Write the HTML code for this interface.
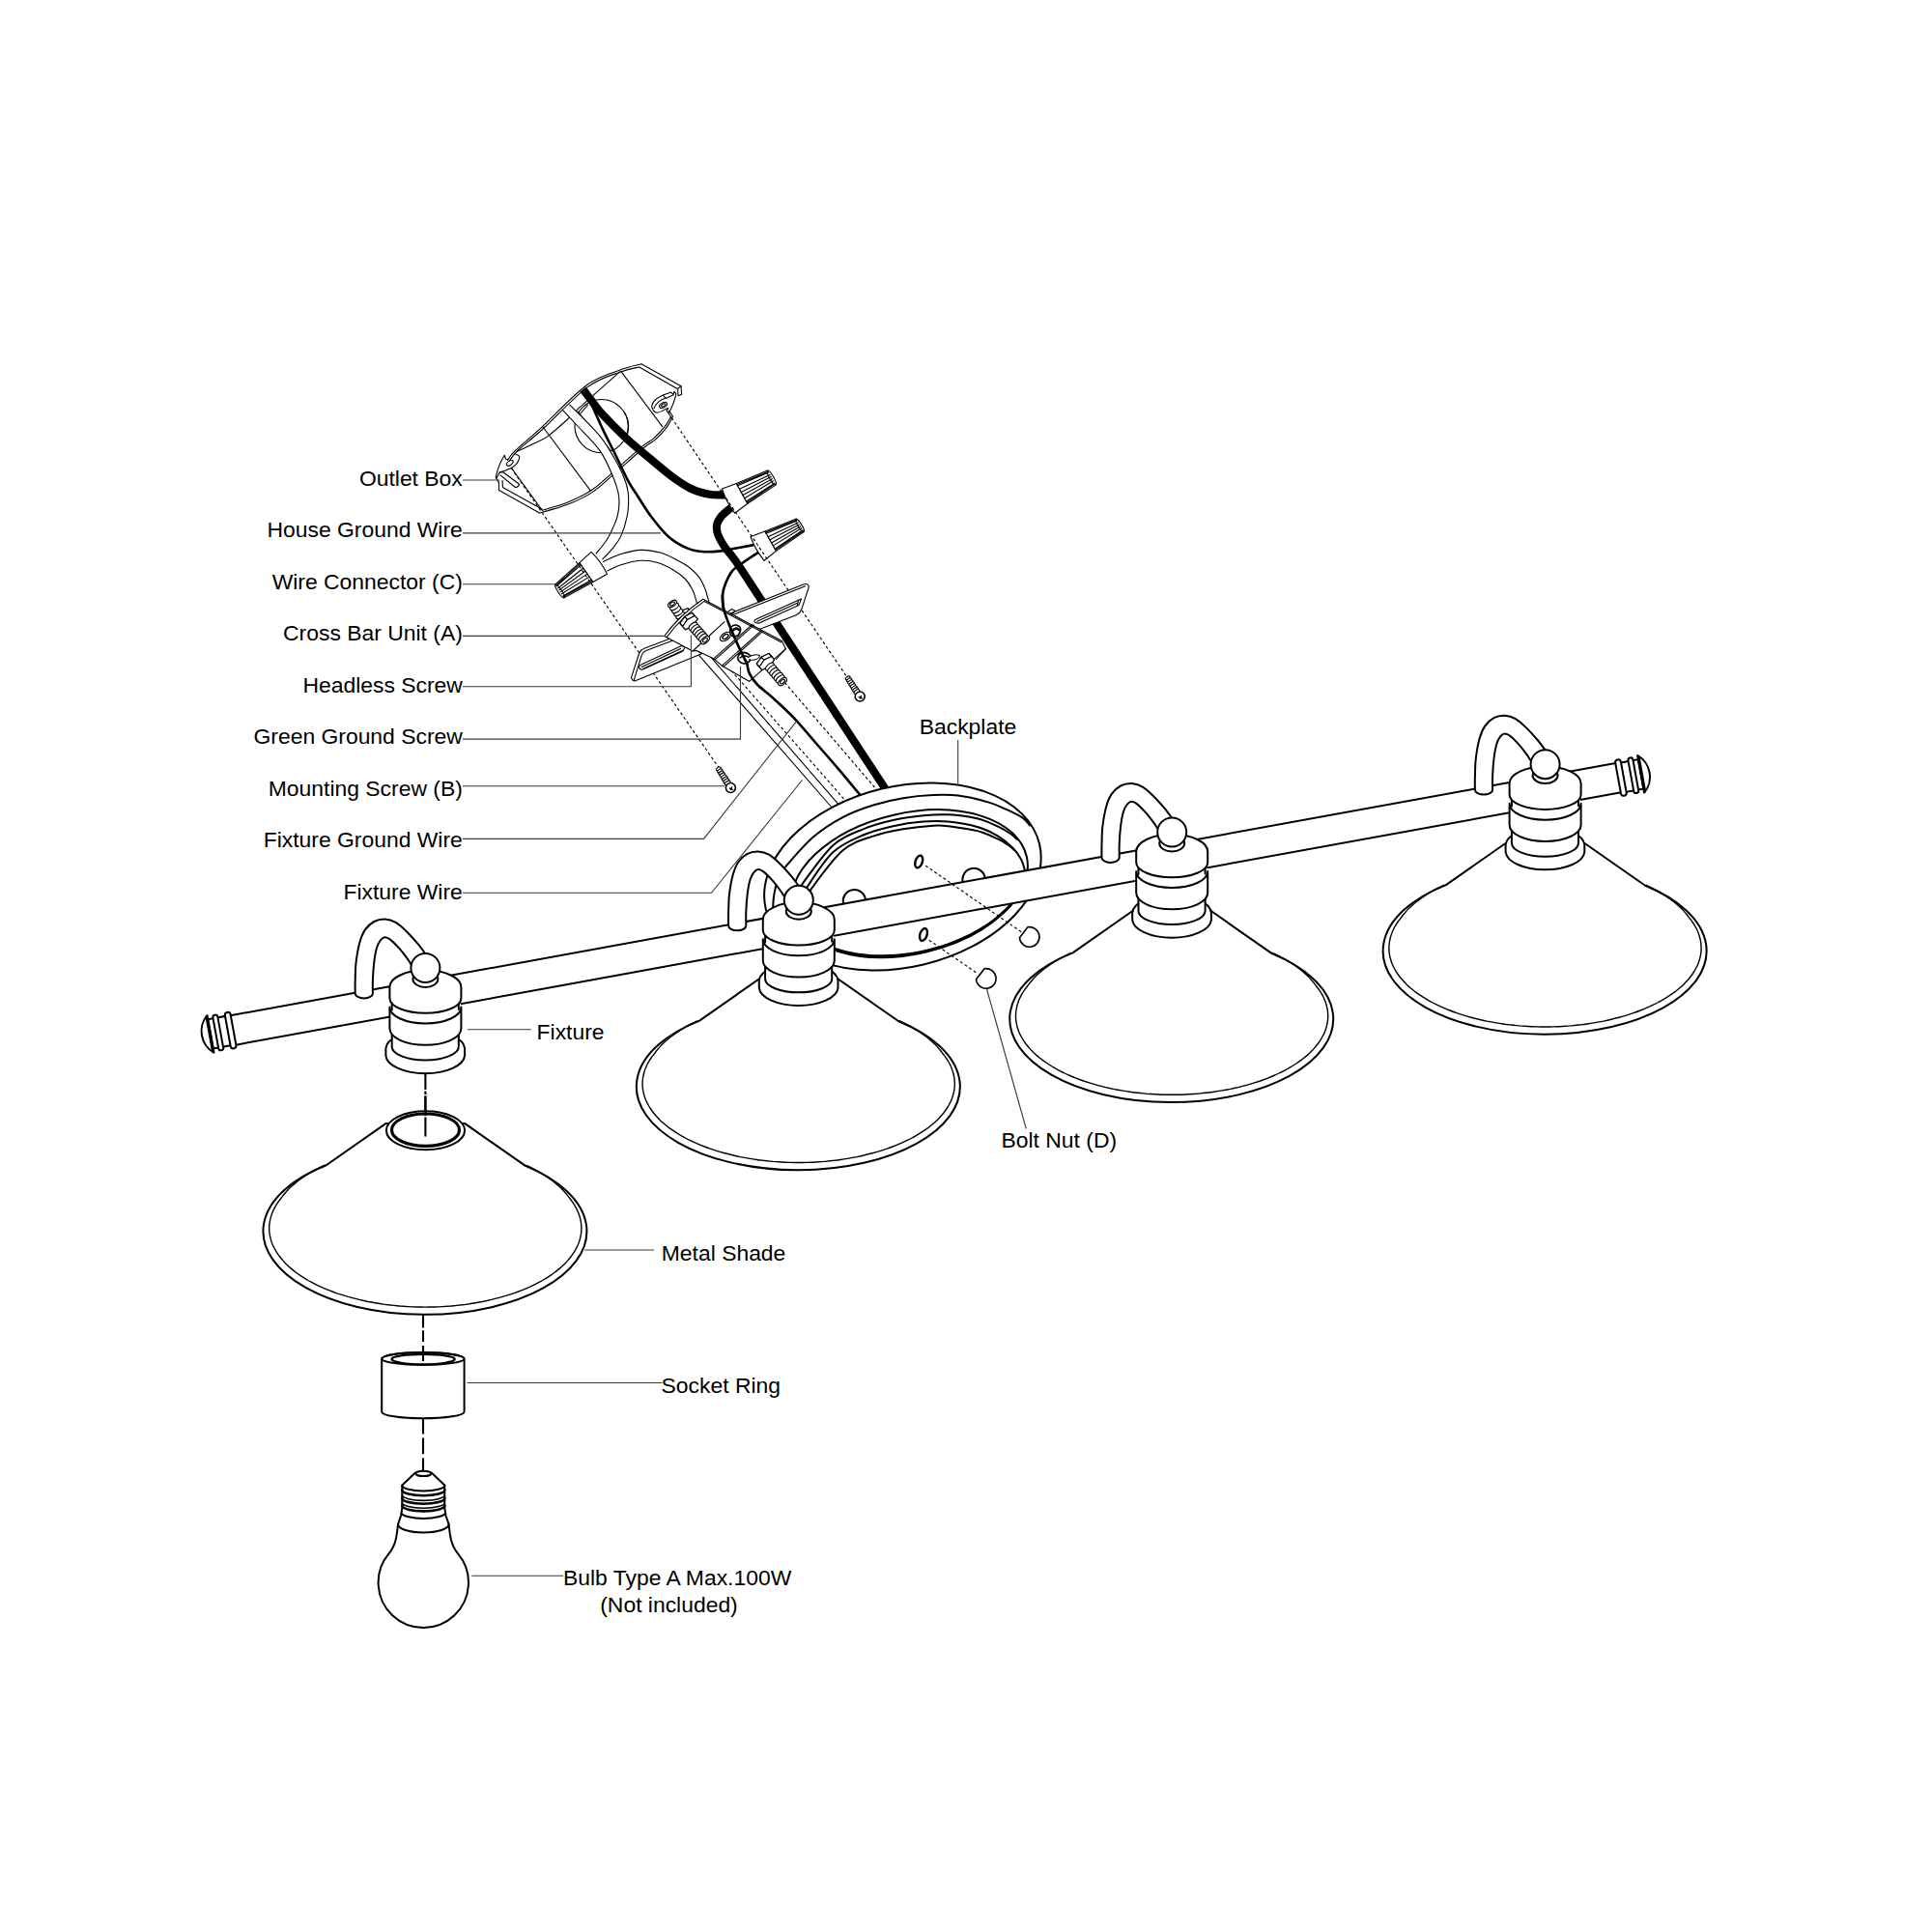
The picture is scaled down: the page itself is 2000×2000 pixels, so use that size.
<!DOCTYPE html>
<html><head><meta charset="utf-8"><title>Fixture Assembly Diagram</title>
<style>
html,body{margin:0;padding:0;background:#fff;}
body{width:2000px;height:2000px;overflow:hidden;}
svg{display:block;}
text{font-family:"Liberation Sans",Arial,sans-serif;font-size:22.9px;fill:#000;}
.ld{stroke:#3a3a3a;stroke-width:1.1;fill:none;}
.t{stroke:#000;stroke-width:1.1;fill:none;stroke-linecap:round;stroke-linejoin:round;}
.tw{stroke:#000;stroke-width:1.1;fill:#fff;stroke-linecap:round;stroke-linejoin:round;}
.n{stroke:#000;stroke-width:1.4;fill:none;stroke-linecap:round;stroke-linejoin:round;}
.nw{stroke:#000;stroke-width:1.6;fill:#fff;stroke-linecap:round;stroke-linejoin:round;}
.m{stroke:#000;stroke-width:2;fill:none;stroke-linecap:round;stroke-linejoin:round;}
.mw{stroke:#000;stroke-width:2;fill:#fff;stroke-linecap:round;stroke-linejoin:round;}
.w{fill:#fff;stroke:none;}
.d{stroke:#000;stroke-width:1.15;fill:none;stroke-dasharray:3 2.6;}
.dd{stroke:#000;stroke-width:2.1;fill:none;stroke-linecap:butt;}
.k7{stroke:#000;stroke-width:8.2;fill:none;stroke-linecap:butt;}
.k25{stroke:#000;stroke-width:2.6;fill:none;stroke-linecap:round;}
</style></head><body>
<svg width="2000" height="2000" viewBox="0 0 2000 2000">
<rect width="2000" height="2000" fill="#fff"/>

<g id="top">
<path class="t" d="M525.5 476.3C526.7 474.8 526.9 472.8 532.8 467.1C538.7 461.4 548.3 453.7 560.7 442.3C573.1 430.9 593.8 408.6 607.3 398.8C620.8 389 632 387 641.5 383.3C651 379.6 660.2 377.9 664 376.8L705 399.8L705.7 408.2L702 409.8L701.7 402.6"/>
<path class="t" d="M527.4 477C528.8 475.2 530.1 472 535.9 466.5C541.7 461 549.9 455 562 444C574.1 433 594.9 410.5 608.3 400.6C621.7 390.8 633.7 388.3 642.6 384.9C651.5 381.5 658.5 380.8 661.7 380L701.3 402.6L705 399.8"/>
<path class="t" d="M694.3 431.9C693.3 433.5 691.2 438 688.2 441.7C685.2 445.4 680.4 450.4 676.6 453.8C672.8 457.2 672.3 456 665.2 461.9C658.1 467.8 643.1 481.5 634.2 489.2C625.3 496.9 619.7 502.6 611.8 507.8C603.9 513 595.4 516.8 587 520.2C578.6 523.6 565.7 526.9 561.4 528.2"/>
<path class="t" d="M695.8 432.8C694.8 434.5 692.8 439.1 689.8 442.8C686.8 446.6 681.9 451.9 678 455.3C674.1 458.8 673.6 457.6 666.5 463.5C659.4 469.4 644.3 483.2 635.4 490.9C626.5 498.6 620.9 504.4 613 509.6C605.1 514.8 596.6 518.7 588 522.1C579.4 525.5 566.7 528.8 561.6 530.2C556.5 531.6 558.3 530.5 557.6 530.6"/>
<path class="t" d="M557.6 530.6L516.6 507.5L516.4 499.4M560.9 527L520.4 504.5L520.1 497.5"/>
<path class="t" d="M643 384.6L685.7 441.7M562.1 442L611.2 507.8"/>
<path class="t" d="M535.3 467.2C537.9 466 545.7 462.6 551 460C556.3 457.4 560.7 456.1 567 451.6C573.3 447.1 583.3 437.9 588.7 433C594.1 428.1 597.8 423.9 599.6 422.1L641.6 384.8"/>
<path class="t" d="M600.4 428.5L608.5 419.2M598 426L632 466"/>
<circle class="t" cx="622.6" cy="441.1" r="27.6"/>
<path class="t" d="M646.5 427A27.6 27.6 0 0 1 646.5 456"/>
<path class="t" d="M529.8 485L561.2 528.2"/>
<path class="t" d="M522.2 471.2Q515.6 482 513.2 494.2L516.4 499.4M522.2 471.2L523.6 475.3L526 475.7"/>
<path class="t" d="M533.9 470.5Q538.6 471.3 537.6 474.4Q536 481 529.2 484.5Q523 487.6 517.4 488.7L513.8 495.2"/>
<ellipse class="t" cx="527.8" cy="479.3" rx="3.8" ry="2.1" transform="rotate(-38 527.8 479.3)"/>
<path class="t" d="M517.3 488.9L520.8 488.7L537.6 501.2Q536.6 504.9 533.4 504.5L518 491.9"/>
<path class="t" d="M686.4 409.1Q676 413.5 674.7 420.3Q675.6 426.3 680 427.3Q685 426.5 688.7 423.6L691.9 422.6L690.1 425"/>
<path class="t" d="M688.7 411.9Q679 416 677 422.6"/>
<ellipse class="t" cx="686.6" cy="419.4" rx="4.3" ry="2.4" transform="rotate(-28 686.6 419.4)"/>
<ellipse class="t" cx="686.8" cy="419.4" rx="2.4" ry="1.3" transform="rotate(-28 686.8 419.4)"/>
<path class="t" d="M686.4 409.1L694.7 406.1L697.1 408.7L689.2 412.4ZM697.1 408.7L698 405.4L699.9 407.7Q697.5 419 692.4 427.3"/>
<path class="t" d="M690.1 425L693.8 430.5M692.4 425.4L696.6 431L695.2 432.9L693.8 430.5"/>
<path class="w" d="M582.4 424.5C584.8 427 590.1 432.5 596.5 439.5C602.9 446.5 614.5 457.3 620.9 466.4C627.3 475.5 631.5 486.1 634.8 494C638.1 501.9 639.9 507.4 640.6 514C641.4 520.6 640.8 527.5 639.3 533.9C637.8 540.3 633.9 547.9 631.7 552.5C629.5 557.1 628.7 558.1 626.3 561.5C623.9 564.9 618.6 571.2 617.1 573.1L623.8 578.9C625.6 577 631.3 571.3 634.5 567.3C637.7 563.3 640.3 560.5 642.8 554.9C645.3 549.3 648 540.5 649.3 533.9C650.6 527.2 650.8 520.6 650.6 515C650.4 509.4 649.7 505.5 648 500C646.3 494.5 644.6 489.9 640.2 481.9C635.8 473.9 630 462.6 621.6 452.1C613.2 441.7 595.2 424.7 589.9 419.2Z"/>
<path class="t" d="M582.4 424.5C584.8 427 590.1 432.5 596.5 439.5C602.9 446.5 614.5 457.3 620.9 466.4C627.3 475.5 631.5 486.1 634.8 494C638.1 501.9 639.9 507.4 640.6 514C641.4 520.6 640.8 527.5 639.3 533.9C637.8 540.3 633.9 547.9 631.7 552.5C629.5 557.1 628.7 558.1 626.3 561.5C623.9 564.9 618.6 571.2 617.1 573.1"/>
<path class="t" d="M589.9 419.2C595.2 424.7 613.2 441.7 621.6 452.1C630 462.6 635.8 473.9 640.2 481.9C644.6 489.9 646.3 494.5 648 500C649.7 505.5 650.4 509.4 650.6 515C650.8 520.6 650.6 527.2 649.3 533.9C648 540.5 645.3 549.3 642.8 554.9C640.3 560.5 637.7 563.3 634.5 567.3C631.3 571.3 625.6 577 623.8 578.9"/>
<path class="w" d="M624.6 581.4C627.6 580.1 636.3 575.5 642.8 573.5C649.3 571.5 656.6 569.6 663.5 569.4C670.4 569.2 678 570.6 684.2 572.3C690.4 574 696.1 577.4 700.8 579.8C705.5 582.2 708.7 583.6 712.4 586.5C716.1 589.4 720.3 593.1 723.2 596.9C726.1 600.7 728.1 605.2 729.8 609.3C731.5 613.4 732.6 618.6 733.5 621.7C734.4 624.8 734.8 627 735 628L722 628C721.8 627 721.6 624.7 720.7 621.7C719.8 618.7 718.5 613.8 716.6 610.1C714.7 606.4 712.8 602.9 709.5 599.5C706.2 596.1 701.5 592.6 696.6 589.7C691.7 586.8 685.6 583.8 680.1 582.2C674.6 580.6 669.7 579.9 663.5 580.3C657.3 580.7 648.6 582.9 642.8 584.7C637 586.5 631.1 589.9 628.7 590.9Z"/>
<path class="t" d="M624.6 581.4C627.6 580.1 636.3 575.5 642.8 573.5C649.3 571.5 656.6 569.6 663.5 569.4C670.4 569.2 678 570.6 684.2 572.3C690.4 574 696.1 577.4 700.8 579.8C705.5 582.2 708.7 583.6 712.4 586.5C716.1 589.4 720.3 593.1 723.2 596.9C726.1 600.7 728.1 605.2 729.8 609.3C731.5 613.4 732.6 618.6 733.5 621.7C734.4 624.8 734.8 627 735 628"/>
<path class="t" d="M628.7 590.9C631.1 589.9 637 586.5 642.8 584.7C648.6 582.9 657.3 580.7 663.5 580.3C669.7 579.9 674.6 580.6 680.1 582.2C685.6 583.8 691.7 586.8 696.6 589.7C701.5 592.6 706.2 596.1 709.5 599.5C712.8 602.9 714.7 606.4 716.6 610.1C718.5 613.8 719.8 618.7 720.7 621.7C721.6 624.7 721.8 627 722 628"/>
<path class="tw" d="M599.8 582.6L612 571.3Q622.2 581 628.5 594.2L613.8 602.5Z"/>
<path class="tw" d="M599.8 582.6 L574.9 605 L584 618.7 L613.8 602.5Z"/>
<ellipse class="tw" cx="579.5" cy="611.9" rx="8.2" ry="2" transform="rotate(56.4 579.5 611.9)"/>
<path class="t" d="M600.5 583.6L575.6 606.1M601.3 584.8L576.1 606.8M603.7 588.2L577.6 609M605.8 591.2L578.9 610.9M607.9 594.1L580.1 612.9M610 597.1L581.4 614.8M612.3 600.3L582.8 616.9M613.1 601.5L583.3 617.6"/>
<path class="k25" d="M606 404C607.2 406.9 610.4 414.1 613.5 421.1C616.6 428.1 620.8 437.6 624.7 445.9C628.6 454.2 632.8 461.9 637.1 470.7C641.4 479.5 647.1 492 650.7 498.7C654.3 505.4 654.6 505 658.5 511C662.4 517 668.2 527 673.9 534.5C679.6 542 686.1 550.4 692.5 556C698.9 561.6 706.3 565.4 712.4 567.9C718.5 570.4 723.3 570.8 729 571.2C734.7 571.6 741.6 570.9 746.4 570.4C751.2 569.9 752.6 569.3 758 568.3C763.4 567.3 775.5 565 779 564.4"/>
<path class="k25" d="M785 572C784.6 572.2 785.5 571.5 782.8 573.3C780.1 575.1 772.8 579.8 768.7 582.8C764.6 585.8 760.9 587.6 758 591.1C755.1 594.6 753 599.4 751.3 603.5C749.6 607.6 748.4 611.6 748 615.9C747.6 620.2 748 624.6 748.9 629.2C749.8 633.8 751.7 638.4 753.6 643.5C755.5 648.6 757.9 654.2 760.3 659.6C762.6 665 765.8 671.8 767.7 675.8C769.6 679.8 771 682.5 771.7 683.8"/>
<path class="k7" d="M603.5 403C604.8 404.7 607.5 408.6 611 413C614.5 417.4 617.9 422.7 624.2 429.6C630.6 436.5 640.8 446.8 649.1 454.4C657.4 462 665.6 468.6 673.9 475.5C682.1 482.4 691.4 490.3 698.6 495.5C705.8 500.7 711.1 504.1 717.3 506.8C723.5 509.6 730.3 511.1 735.9 512C741.5 512.9 748.5 512.2 751 512.3"/>
<path class="k7" d="M761 523C760.2 523.5 758.6 524.3 756.3 526.1C754 527.9 749.6 531.2 747.2 534C744.9 536.8 742.9 539.9 742.2 543.1C741.5 546.3 741.9 549.3 743.1 553C744.4 556.7 746.4 560.4 749.7 565.4C753 570.4 756.5 573.5 762.9 582.8C769.3 592.1 783.8 614.6 788 621L919 820.5"/>
<path class="t" d="M723.4 678.2L861.2 836M732.9 676.9L868 832.6"/>
<path class="tw" d="M762.3 500.5L747.5 506Q751.7 519.5 760.7 531.2L773.9 521.3Z"/>
<path class="tw" d="M762.3 500.5 L794.6 487.1 L803 502.1 L773.9 521.3Z"/>
<ellipse class="tw" cx="798.8" cy="494.6" rx="8.6" ry="2.1" transform="rotate(60.8 798.8 494.6)"/>
<path class="t" d="M762.9 501.5L795.2 488.3M763.6 502.8L795.7 489.1M765.5 506.3L797.1 491.5M767.3 509.4L798.2 493.6M769 512.6L799.4 495.7M770.8 515.7L800.6 497.8M772.6 519L801.9 500.1M773.3 520.3L802.4 500.9"/>
<path class="tw" d="M791.9 550.1L777 555.5Q781.6 568.8 791.1 580.3L803.5 570.4Z"/>
<path class="tw" d="M791.9 550.1 L823.9 537.2 L832.1 550.5 L803.5 570.4Z"/>
<ellipse class="tw" cx="828" cy="543.9" rx="7.8" ry="1.9" transform="rotate(58.3 828 543.9)"/>
<path class="t" d="M792.5 551.1L824.5 538.2M793.2 552.3L825 539M795.1 555.8L826.3 541.1M796.9 558.8L827.5 543M798.6 561.9L828.6 544.9M800.4 564.9L829.8 546.7M802.2 568.2L831 548.7M802.9 569.4L831.5 549.5"/>
<path class="d" d="M529.2 484.5L743.6 794"/>
<path class="d" d="M695.2 432.4L876.5 700.5"/>
<path class="d" d="M731.1 664.6L873.9 827.3"/>
<path class="d" d="M812.3 706.5L908 818"/>
<path class="tw" d="M716.5 636 L712.1 641 L705.8 643.3 L703.9 640.6 L708.3 635.5 L714.6 633.2Z"/>
<path class="tw" d="M716.5 636 L714.1 632.5 L709.7 637.6 L712.1 641Z"/>
<path class="tw" d="M712.1 641 L709.7 637.6 L703.4 639.9 L705.8 643.3Z"/>
<path class="tw" d="M705.8 643.3 L703.4 639.9 L701.5 637.1 L703.9 640.6Z"/>
<path class="tw" d="M703.9 640.6 L701.5 637.1 L705.9 632 L708.3 635.5Z"/>
<path class="tw" d="M708.3 635.5 L705.9 632 L712.2 629.7 L714.6 633.2Z"/>
<path class="tw" d="M714.6 633.2 L712.2 629.7 L714.1 632.5 L716.5 636Z"/>
<path class="tw" d="M714.1 632.5 L709.7 637.6 L703.4 639.9 L701.5 637.1 L705.9 632 L712.2 629.7Z"/>
<ellipse class="tw" cx="706.3" cy="640" rx="5" ry="2.8" transform="rotate(-34.5 706.3 640)"/>
<ellipse class="tw" cx="704.2" cy="637" rx="5" ry="2.8" transform="rotate(-34.5 704.2 637)"/>
<ellipse class="tw" cx="702.2" cy="634" rx="5" ry="2.8" transform="rotate(-34.5 702.2 634)"/>
<ellipse class="tw" cx="700.1" cy="631" rx="5" ry="2.8" transform="rotate(-34.5 700.1 631)"/>
<ellipse class="tw" cx="698.1" cy="628" rx="5" ry="2.8" transform="rotate(-34.5 698.1 628)"/>
<ellipse class="tw" cx="696" cy="625" rx="5" ry="2.8" transform="rotate(-34.5 696 625)"/>
<ellipse class="t" cx="696" cy="625" rx="2.8" ry="1.5" transform="rotate(-34.5 696 625)"/>
<path class="tw" d="M655.1 704.3L653.4 701.6L661.8 676Q663.5 672.6 667.4 671.1L700 658.8L726.4 676.7L657.1 705Z"/>
<path class="t" d="M656.1 704.6L664.2 678.4Q665.6 675 668.8 673.6L696 663.2"/>
<path class="t" d="M662.2 688.8L705.6 668.6Q709 668.6 708.3 671.3Q707.6 673.8 705.6 674.7L665.4 693Q662.2 693.6 661.6 691.2Q661.4 689.6 662.2 688.8Z"/>
<path class="t" d="M664.2 690.6L704.6 671.6M666.4 692L706.6 673.4"/>
<path class="tw" d="M756 635L832.3 604.8Q835 603.9 836.4 605.4Q837.6 606.8 837 608.6L829.6 631.3Q828 635.2 824.2 636.7L786 651.6Z"/>
<path class="t" d="M759 636.4L833.6 606.8"/>
<path class="t" d="M781.8 641.4L826.6 621.2Q829.8 620 829.6 619.9L826.9 626.6L786 645Q781.6 645.6 781 643.4Q780.8 642.2 781.8 641.4Z"/>
<path class="t" d="M783.8 643.2L825.4 624.2M826.6 621.2L825.4 626.6"/>
<path class="tw" d="M687.7 658.5Q703.5 636.5 727.8 620.2L809.4 663.6L813.4 671.7L775.8 705.4L747.5 689.2L738.7 681.8L721 673.4L717 674Z"/>
<path class="t" d="M690.2 659.6Q705.5 638.6 729.2 622.4"/>
<path class="t" d="M729.2 622.4L808.6 664.8"/>
<path class="t" d="M717 674L750 643.7"/>
<path class="t" d="M738.7 681.8L779.1 646.1M740.2 682.9L780.4 647.1M747.5 689.2L787.9 652.9M749 690.2L789.2 653.9"/>
<path class="t" d="M754 633L757.4 630.4L760.8 632.3L757.8 636.4"/>
<path class="t" d="M813.4 671.7L803.4 682.5"/>
<ellipse class="tw" cx="751" cy="659" rx="6.4" ry="3.6" transform="rotate(-35 751 659)"/>
<ellipse class="n" cx="751" cy="659" rx="3.4" ry="1.9" transform="rotate(-35 751 659)"/>
<path class="nw" d="M755.6 650.6Q760 644.6 765.6 648.6Q768.4 652.6 764 657.6Q759 660.6 756 656.6Z"/>
<path class="k25" d="M758.6 652.6Q762 649 765 652"/>
<path class="nw" d="M763.6 681.4Q764 675.6 770.4 675.4Q776.4 676.4 777.6 681.4Q775.6 686.8 770 687Q764.6 686 763.6 681.4Z"/>
<path class="tw" d="M776 679.6Q781.6 676.6 786.4 678.4Q786.6 681.6 781 683Q777.6 683.6 776 682.6"/>
<path class="n" d="M766 681Q770 677.4 775 680.4"/>
<path class="tw" d="M704 645.3 L708.8 638.2 L716.4 634.3 L719.3 637.6 L714.5 644.7 L706.8 648.6Z"/>
<path class="tw" d="M704 645.3 L706.7 648.5 L711.5 641.4 L708.8 638.2Z"/>
<path class="tw" d="M708.8 638.2 L711.5 641.4 L719.2 637.5 L716.4 634.3Z"/>
<path class="tw" d="M716.4 634.3 L719.2 637.5 L722.1 640.7 L719.3 637.6Z"/>
<path class="tw" d="M719.3 637.6 L722.1 640.7 L717.3 647.8 L714.5 644.7Z"/>
<path class="tw" d="M714.5 644.7 L717.3 647.8 L709.6 651.7 L706.8 648.6Z"/>
<path class="tw" d="M706.8 648.6 L709.6 651.7 L706.7 648.5 L704 645.3Z"/>
<path class="tw" d="M706.7 648.5 L711.5 641.4 L719.2 637.5 L722.1 640.7 L717.3 647.8 L709.6 651.7Z"/>
<ellipse class="tw" cx="717.5" cy="648.4" rx="5.2" ry="2.9" transform="rotate(138.7 717.5 648.4)"/>
<ellipse class="tw" cx="719.6" cy="650.8" rx="5.2" ry="2.9" transform="rotate(138.7 719.6 650.8)"/>
<ellipse class="tw" cx="721.7" cy="653.2" rx="5.2" ry="2.9" transform="rotate(138.7 721.7 653.2)"/>
<ellipse class="tw" cx="723.8" cy="655.5" rx="5.2" ry="2.9" transform="rotate(138.7 723.8 655.5)"/>
<ellipse class="tw" cx="725.8" cy="657.9" rx="5.2" ry="2.9" transform="rotate(138.7 725.8 657.9)"/>
<ellipse class="tw" cx="727.9" cy="660.2" rx="5.2" ry="2.9" transform="rotate(138.7 727.9 660.2)"/>
<ellipse class="tw" cx="730" cy="662.6" rx="5.2" ry="2.9" transform="rotate(138.7 730 662.6)"/>
<ellipse class="t" cx="730" cy="662.6" rx="2.9" ry="1.6" transform="rotate(138.7 730 662.6)"/>
<path class="tw" d="M783.3 687.1 L788.3 680.1 L796 676.4 L798.8 679.7 L793.9 686.7 L786.1 690.4Z"/>
<path class="tw" d="M783.3 687.1 L786.1 690.3 L791 683.3 L788.3 680.1Z"/>
<path class="tw" d="M788.3 680.1 L791 683.3 L798.7 679.6 L796 676.4Z"/>
<path class="tw" d="M796 676.4 L798.7 679.6 L801.5 682.9 L798.8 679.7Z"/>
<path class="tw" d="M798.8 679.7 L801.5 682.9 L796.6 689.9 L793.9 686.7Z"/>
<path class="tw" d="M793.9 686.7 L796.6 689.9 L788.9 693.6 L786.1 690.4Z"/>
<path class="tw" d="M786.1 690.4 L788.9 693.6 L786.1 690.3 L783.3 687.1Z"/>
<path class="tw" d="M786.1 690.3 L791 683.3 L798.7 679.6 L801.5 682.9 L796.6 689.9 L788.9 693.6Z"/>
<ellipse class="tw" cx="797" cy="690.3" rx="5.2" ry="2.9" transform="rotate(139.6 797 690.3)"/>
<ellipse class="tw" cx="799.1" cy="692.8" rx="5.2" ry="2.9" transform="rotate(139.6 799.1 692.8)"/>
<ellipse class="tw" cx="801.3" cy="695.4" rx="5.2" ry="2.9" transform="rotate(139.6 801.3 695.4)"/>
<ellipse class="tw" cx="803.5" cy="697.9" rx="5.2" ry="2.9" transform="rotate(139.6 803.5 697.9)"/>
<ellipse class="tw" cx="805.7" cy="700.5" rx="5.2" ry="2.9" transform="rotate(139.6 805.7 700.5)"/>
<ellipse class="tw" cx="807.8" cy="703" rx="5.2" ry="2.9" transform="rotate(139.6 807.8 703)"/>
<ellipse class="tw" cx="810" cy="705.6" rx="5.2" ry="2.9" transform="rotate(139.6 810 705.6)"/>
<ellipse class="t" cx="810" cy="705.6" rx="2.9" ry="1.6" transform="rotate(139.6 810 705.6)"/>
<path class="k25" d="M748 615.9C748.1 618.1 748 624.6 748.9 629.2C749.8 633.8 751.7 638.4 753.6 643.5C755.5 648.6 757.9 654.2 760.3 659.6C762.6 665 765.8 671.8 767.7 675.8C769.6 679.8 771 682.5 771.7 683.8"/>
<path class="k25" d="M771.7 683.8C772 684.3 772.6 684.8 773.3 687C774 689.2 774 693.5 775.8 697.1C777.5 700.7 779.8 704.3 783.8 708.5C787.8 712.7 793.2 716.2 799.7 722.1C806.2 728 814.9 735.8 822.5 743.8C830.1 751.8 837.7 761.3 845.3 770C852.9 778.7 860.4 787.2 868 796.1C875.6 805 886.5 818.3 890.8 823.5C895.1 828.7 893.5 826.8 894 827.5"/>
<ellipse class="tw" cx="743.8" cy="795.8" rx="2.7" ry="1.4" transform="rotate(147.4 743.8 795.8)"/>
<ellipse class="tw" cx="745.2" cy="797.9" rx="2.8" ry="1.5" transform="rotate(147.4 745.2 797.9)"/>
<ellipse class="tw" cx="746.5" cy="800" rx="2.9" ry="1.5" transform="rotate(147.4 746.5 800)"/>
<ellipse class="tw" cx="747.8" cy="802.1" rx="3" ry="1.5" transform="rotate(147.4 747.8 802.1)"/>
<ellipse class="tw" cx="749.2" cy="804.2" rx="3" ry="1.6" transform="rotate(147.4 749.2 804.2)"/>
<ellipse class="tw" cx="750.5" cy="806.3" rx="3.1" ry="1.6" transform="rotate(147.4 750.5 806.3)"/>
<ellipse class="tw" cx="751.8" cy="808.4" rx="3.2" ry="1.7" transform="rotate(147.4 751.8 808.4)"/>
<ellipse class="tw" cx="753.2" cy="810.5" rx="3.3" ry="1.7" transform="rotate(147.4 753.2 810.5)"/>
<circle class="nw" cx="756.4" cy="815.5" r="5"/>
<path class="n" d="M755.4 816.1l3.2 1.2M757.6 814.9l-1 2.6"/>
<ellipse class="tw" cx="877.6" cy="701.9" rx="2.7" ry="1.4" transform="rotate(146.6 877.6 701.9)"/>
<ellipse class="tw" cx="879" cy="703.9" rx="2.8" ry="1.5" transform="rotate(146.6 879 703.9)"/>
<ellipse class="tw" cx="880.3" cy="705.9" rx="2.9" ry="1.5" transform="rotate(146.6 880.3 705.9)"/>
<ellipse class="tw" cx="881.6" cy="708" rx="3" ry="1.5" transform="rotate(146.6 881.6 708)"/>
<ellipse class="tw" cx="882.9" cy="710" rx="3" ry="1.6" transform="rotate(146.6 882.9 710)"/>
<ellipse class="tw" cx="884.3" cy="712" rx="3.1" ry="1.6" transform="rotate(146.6 884.3 712)"/>
<ellipse class="tw" cx="885.6" cy="714" rx="3.2" ry="1.7" transform="rotate(146.6 885.6 714)"/>
<ellipse class="tw" cx="886.9" cy="716" rx="3.3" ry="1.7" transform="rotate(146.6 886.9 716)"/>
<circle class="nw" cx="890.2" cy="721" r="5"/>
<path class="n" d="M889.2 721.6l3.2 1.2M891.4 720.4l-1 2.6"/>
</g>
<g id="backplate">
<ellipse class="mw" cx="934.4" cy="907.5" rx="145.6" ry="93.5" transform="rotate(-13.4 934.4 907.5)"/>
<path class="m" d="M800.2 938.4C800.4 936.2 800.5 930.1 801.5 925C802.5 919.9 804 912.7 806 908C808 903.3 807.8 903.5 813.8 896.6C819.8 889.7 832 875.1 841.8 866.6C851.6 858.1 862.4 851.4 872.8 845.9C883.1 840.4 893.5 836.8 903.9 833.5C914.2 830.2 924.5 827.9 934.9 826.2C945.2 824.5 956.5 823.5 966 823.1C975.5 822.7 982.3 822.4 991.8 823.6C1001.3 824.8 1014.2 827.9 1022.8 830.4C1031.4 832.9 1037.5 836 1043.5 838.7C1049.5 841.5 1055.2 844.3 1059 846.9C1062.8 849.5 1064.8 853.2 1066 854.5"/>
<ellipse class="m" cx="941.4" cy="914.7" rx="124.6" ry="72.9" transform="rotate(-13 941.4 914.7)"/>
<path class="m" d="M826 925C826.7 923.4 824.3 923.6 830.4 915.3C836.5 906.9 852 884.4 862.5 874.9C873 865.4 883.1 862.6 893.5 858.3C903.9 854 914.2 851.3 924.6 849C935 846.7 946.1 845.2 955.6 844.3C965.1 843.3 971.9 842.8 981.4 843.3C990.9 843.8 1003.9 845.4 1012.5 847.5C1021.1 849.6 1027.6 853.1 1033.2 855.7C1038.8 858.3 1042.7 860.8 1046 863C1049.3 865.2 1051.8 868 1053 869"/>
<path class="m" d="M832 928C832.6 926.4 830.4 926 835.5 918.4C840.6 910.8 852.8 891.1 862.5 882.1C872.2 873.1 883.1 869 893.5 864.5C903.9 860 914.2 857.5 924.6 855.2C935 852.9 946.1 851.4 955.6 850.6C965.1 849.8 971.9 849.7 981.4 850.6C990.9 851.5 1003.9 853.8 1012.5 856.3C1021.1 858.8 1027.2 862 1033.2 865.6C1039.2 869.2 1044.7 874 1048.7 878C1052.7 882 1055 885.8 1057 889.4C1059 893 1059.9 896.9 1060.6 899.7C1061.3 902.5 1060.9 905 1061 906"/>
<path class="m" d="M836 930C836.6 928.4 833.6 928.7 839.7 920.4C845.8 912.1 862.1 889.2 872.8 880.1C883.5 871 893.5 869.2 903.9 865.6C914.2 862 924.5 860.1 934.9 858.3C945.2 856.5 958.2 855.2 966 854.7C973.8 854.2 973.6 854.2 981.4 855.2C989.1 856.2 1003.9 858.1 1012.5 860.4C1021.1 862.6 1028 866.3 1033.2 868.7C1038.5 871.1 1041.2 873.1 1044 875C1046.8 876.9 1049 879.2 1050 880"/>
<path class="m" d="M1061.1 911.5C1060.5 912.9 1058.9 917.2 1057.4 920.1C1055.9 922.9 1054.2 925.8 1052.2 928.6C1050.2 931.4 1048 934.2 1045.6 937C1043.2 939.7 1040.5 942.4 1037.6 945C1034.8 947.6 1031.7 950.2 1028.5 952.6C1025.2 955.1 1021.8 957.5 1018.2 959.8C1014.6 962 1010.8 964.2 1006.9 966.3C1003 968.4 998.9 970.3 994.8 972.2C990.6 974 986.4 975.7 982 977.3C977.7 978.8 973.2 980.3 968.7 981.5C964.2 982.8 959.6 984 955.1 984.9C950.5 985.9 945.8 986.8 941.2 987.4C936.6 988.1 932 988.6 927.4 989C922.9 989.3 918.3 989.5 913.8 989.5C909.3 989.6 904.9 989.4 900.6 989.1C896.2 988.8 891.9 988.4 887.8 987.8C883.7 987.1 879.7 986.4 875.8 985.4C871.9 984.5 868.2 983.4 864.6 982.2C861 980.9 857.6 979.5 854.4 978C851.2 976.5 846.9 973.9 845.3 973" style="stroke-width:2.4"/>
<ellipse class="m" style="stroke-width:2.4" cx="951.2" cy="892" rx="3.6" ry="6.6" transform="rotate(18 951.2 892)"/>
<ellipse class="m" style="stroke-width:2.4" cx="956" cy="967.5" rx="3.6" ry="6.6" transform="rotate(18 956 967.5)"/>
<path class="m" d="M996.6 912.6A11.6 11.6 0 0 1 1019.6 908.4"/>
<path class="m" d="M872.9 934.9A11.6 11.6 0 0 1 895.9 930.7"/>
</g>
<path class="nw" d="M1063.9 959.8A10.3 10.3 0 1 1 1055.4 970.8Z"/>
<path class="nw" d="M1019 1002.8A10.3 10.3 0 1 1 1010.5 1013.8Z"/>
<path class="w" d="M239.8 1051L1671.1 790.3L1676.9 820.4L245.5 1081.4Z"/>
<path class="m" d="M239.8 1051L1671.1 790.3"/>
<path class="m" d="M245.5 1081.4L1676.9 820.4"/>
<g transform="matrix(-0.9838 0.1793 0.1793 0.9838 242.6 1065.9)">
<path class="mw" d="M6.5 -15.8Q11 -14.6 15.5 -16V16Q11 14.6 6.5 15.8Z"/>
<path class="mw" d="M1.1 -16.1V16.1A2.9 2.9 0 0 0 6.9 16.1V-16.1A2.9 2.9 0 0 0 1.1 -16.1Z"/>
<path class="mw" d="M19 -15.4H25V15.4H19Z"/>
<path class="mw" d="M14.6 -16.1V16.1A2.5 2.5 0 0 0 19.6 16.1V-16.1A2.5 2.5 0 0 0 14.6 -16.1Z"/>
<path class="mw" d="M25 -19.6C31 -15 34.2 -7 34.2 0C34.2 7 31 15 25 19.6Z"/>
<path class="m" d="M26.3 -18.6V18.6"/>
</g>
<g transform="matrix(0.9838 -0.1793 0.1793 0.9838 1674 805.8)">
<path class="mw" d="M6.5 -15.8Q11 -14.6 15.5 -16V16Q11 14.6 6.5 15.8Z"/>
<path class="mw" d="M1.1 -16.1V16.1A2.9 2.9 0 0 0 6.9 16.1V-16.1A2.9 2.9 0 0 0 1.1 -16.1Z"/>
<path class="mw" d="M19 -15.4H25V15.4H19Z"/>
<path class="mw" d="M14.6 -16.1V16.1A2.5 2.5 0 0 0 19.6 16.1V-16.1A2.5 2.5 0 0 0 14.6 -16.1Z"/>
<path class="mw" d="M25 -19.6C31 -15 34.2 -7 34.2 0C34.2 7 31 15 25 19.6Z"/>
<path class="m" d="M26.3 -18.6V18.6"/>
</g>
<path class="d" d="M958.1 896.1L1057.8 965.1"/>
<path class="d" d="M961.7 973.2L1011.9 1007.8"/>
<g transform="translate(826.7 1123.5)">
<path class="mw" d="M-41 -110L-102.6 -66.9A167.5 86.3 0 1 0 103.6 -66.2L41 -110Z"/>
<path class="n" d="M-104.7 -66.7C-105.8 -66.1 -109.1 -64.6 -111.3 -63.5C-113.4 -62.4 -115.5 -61.2 -117.4 -60.1C-119.4 -59 -121.4 -57.8 -123.2 -56.6C-125.1 -55.4 -126.9 -54.2 -128.6 -52.9C-130.3 -51.7 -132 -50.5 -133.6 -49.2C-135.1 -47.9 -136.6 -46.6 -138.1 -45.3C-139.5 -44 -140.9 -42.7 -142.2 -41.4C-143.4 -40 -144.6 -38.7 -145.8 -37.3C-146.9 -36 -147.9 -34.6 -149 -33.2C-150 -31.8 -151.2 -30.4 -152.2 -29C-153.2 -27.6 -154.1 -26.2 -154.9 -24.8C-155.8 -23.4 -156.5 -21.9 -157.2 -20.5C-157.9 -19.1 -158.5 -17.6 -159 -16.1C-159.5 -14.7 -160 -13.2 -160.3 -11.7C-160.7 -10.2 -161 -8.8 -161.2 -7.3C-161.4 -5.8 -161.5 -4.3 -161.6 -2.8C-161.6 -1.3 -161.6 0.1 -161.5 1.6C-161.4 3.1 -161.2 4.6 -160.9 6.1C-160.6 7.6 -160.2 9 -159.8 10.5C-159.4 12 -158.9 13.4 -158.3 14.9C-157.7 16.4 -157 17.8 -156.2 19.2C-155.5 20.7 -154.7 22.1 -153.7 23.5C-152.8 24.9 -151.9 26.3 -150.8 27.7C-149.7 29.1 -148.6 30.5 -147.4 31.8C-146.2 33.2 -144.9 34.5 -143.6 35.9C-142.2 37.2 -140.8 38.5 -139.3 39.8C-137.8 41.1 -136.2 42.3 -134.6 43.6C-133 44.8 -131.3 46 -129.5 47.2C-127.7 48.4 -125.9 49.6 -124 50.7C-122.1 51.8 -120.2 53 -118.2 54C-116.2 55.1 -114.1 56.2 -112 57.2C-109.9 58.3 -107.7 59.3 -105.5 60.2C-103.2 61.2 -100.9 62.1 -98.6 63C-96.3 63.9 -93.9 64.8 -91.5 65.7C-89 66.5 -86.5 67.3 -84 68.1C-81.5 68.9 -79 69.6 -76.4 70.3C-73.8 71 -71.1 71.7 -68.5 72.3C-65.8 72.9 -63.1 73.5 -60.4 74.1C-57.6 74.6 -54.9 75.2 -52.1 75.6C-49.3 76.1 -46.5 76.6 -43.6 77C-40.8 77.4 -37.9 77.7 -35.1 78C-32.2 78.4 -29.3 78.6 -26.4 78.9C-23.5 79.1 -20.6 79.3 -17.6 79.5C-14.7 79.7 -11.8 79.8 -8.8 79.9C-5.9 79.9 -2.9 80 0 80C2.9 80 5.9 79.9 8.8 79.9C11.8 79.8 14.7 79.7 17.6 79.5C20.6 79.3 23.5 79.1 26.4 78.9C29.3 78.6 32.2 78.4 35.1 78C37.9 77.7 40.8 77.4 43.6 77C46.5 76.6 49.3 76.1 52.1 75.6C54.9 75.2 57.6 74.6 60.4 74.1C63.1 73.5 65.8 72.9 68.5 72.3C71.1 71.7 73.8 71 76.4 70.3C79 69.6 81.5 68.9 84 68.1C86.5 67.3 89 66.5 91.5 65.7C93.9 64.8 96.3 63.9 98.6 63C100.9 62.1 103.2 61.2 105.5 60.2C107.7 59.3 109.9 58.3 112 57.2C114.1 56.2 116.2 55.1 118.2 54C120.2 53 122.1 51.8 124 50.7C125.9 49.6 127.7 48.4 129.5 47.2C131.3 46 133 44.8 134.6 43.6C136.2 42.3 137.8 41.1 139.3 39.8C140.8 38.5 142.2 37.2 143.6 35.9C144.9 34.5 146.2 33.2 147.4 31.8C148.6 30.5 149.7 29.1 150.8 27.7C151.9 26.3 152.8 24.9 153.7 23.5C154.7 22.1 155.5 20.7 156.2 19.2C157 17.8 157.7 16.4 158.3 14.9C158.9 13.4 159.4 12 159.8 10.5C160.2 9 160.6 7.6 160.9 6.1C161.2 4.6 161.4 3.1 161.5 1.6C161.6 0.1 161.6 -1.3 161.6 -2.8C161.5 -4.3 161.4 -5.8 161.2 -7.3C161 -8.8 160.7 -10.2 160.3 -11.7C160 -13.2 159.5 -14.7 159 -16.1C158.5 -17.6 157.9 -19.1 157.2 -20.5C156.5 -21.9 155.8 -23.4 154.9 -24.8C154.1 -26.2 153.2 -27.6 152.2 -29C151.2 -30.4 150 -31.8 149 -33.2C147.9 -34.6 146.9 -36 145.8 -37.3C144.6 -38.7 143.4 -40 142.2 -41.4C140.9 -42.7 139.5 -44 138.1 -45.3C136.6 -46.6 135.1 -47.9 133.6 -49.2C132 -50.5 130.3 -51.7 128.6 -52.9C126.9 -54.2 125.1 -55.4 123.2 -56.6C121.4 -57.8 119.4 -59 117.4 -60.1C115.5 -61.2 113.4 -62.4 111.3 -63.5C109.1 -64.6 105.8 -66.1 104.7 -66.7"/>
</g>
<g transform="translate(1213.1 1053.3)">
<path class="mw" d="M-41 -110L-102.6 -66.9A167.5 86.3 0 1 0 103.6 -66.2L41 -110Z"/>
<path class="n" d="M-104.7 -66.7C-105.8 -66.1 -109.1 -64.6 -111.3 -63.5C-113.4 -62.4 -115.5 -61.2 -117.4 -60.1C-119.4 -59 -121.4 -57.8 -123.2 -56.6C-125.1 -55.4 -126.9 -54.2 -128.6 -52.9C-130.3 -51.7 -132 -50.5 -133.6 -49.2C-135.1 -47.9 -136.6 -46.6 -138.1 -45.3C-139.5 -44 -140.9 -42.7 -142.2 -41.4C-143.4 -40 -144.6 -38.7 -145.8 -37.3C-146.9 -36 -147.9 -34.6 -149 -33.2C-150 -31.8 -151.2 -30.4 -152.2 -29C-153.2 -27.6 -154.1 -26.2 -154.9 -24.8C-155.8 -23.4 -156.5 -21.9 -157.2 -20.5C-157.9 -19.1 -158.5 -17.6 -159 -16.1C-159.5 -14.7 -160 -13.2 -160.3 -11.7C-160.7 -10.2 -161 -8.8 -161.2 -7.3C-161.4 -5.8 -161.5 -4.3 -161.6 -2.8C-161.6 -1.3 -161.6 0.1 -161.5 1.6C-161.4 3.1 -161.2 4.6 -160.9 6.1C-160.6 7.6 -160.2 9 -159.8 10.5C-159.4 12 -158.9 13.4 -158.3 14.9C-157.7 16.4 -157 17.8 -156.2 19.2C-155.5 20.7 -154.7 22.1 -153.7 23.5C-152.8 24.9 -151.9 26.3 -150.8 27.7C-149.7 29.1 -148.6 30.5 -147.4 31.8C-146.2 33.2 -144.9 34.5 -143.6 35.9C-142.2 37.2 -140.8 38.5 -139.3 39.8C-137.8 41.1 -136.2 42.3 -134.6 43.6C-133 44.8 -131.3 46 -129.5 47.2C-127.7 48.4 -125.9 49.6 -124 50.7C-122.1 51.8 -120.2 53 -118.2 54C-116.2 55.1 -114.1 56.2 -112 57.2C-109.9 58.3 -107.7 59.3 -105.5 60.2C-103.2 61.2 -100.9 62.1 -98.6 63C-96.3 63.9 -93.9 64.8 -91.5 65.7C-89 66.5 -86.5 67.3 -84 68.1C-81.5 68.9 -79 69.6 -76.4 70.3C-73.8 71 -71.1 71.7 -68.5 72.3C-65.8 72.9 -63.1 73.5 -60.4 74.1C-57.6 74.6 -54.9 75.2 -52.1 75.6C-49.3 76.1 -46.5 76.6 -43.6 77C-40.8 77.4 -37.9 77.7 -35.1 78C-32.2 78.4 -29.3 78.6 -26.4 78.9C-23.5 79.1 -20.6 79.3 -17.6 79.5C-14.7 79.7 -11.8 79.8 -8.8 79.9C-5.9 79.9 -2.9 80 0 80C2.9 80 5.9 79.9 8.8 79.9C11.8 79.8 14.7 79.7 17.6 79.5C20.6 79.3 23.5 79.1 26.4 78.9C29.3 78.6 32.2 78.4 35.1 78C37.9 77.7 40.8 77.4 43.6 77C46.5 76.6 49.3 76.1 52.1 75.6C54.9 75.2 57.6 74.6 60.4 74.1C63.1 73.5 65.8 72.9 68.5 72.3C71.1 71.7 73.8 71 76.4 70.3C79 69.6 81.5 68.9 84 68.1C86.5 67.3 89 66.5 91.5 65.7C93.9 64.8 96.3 63.9 98.6 63C100.9 62.1 103.2 61.2 105.5 60.2C107.7 59.3 109.9 58.3 112 57.2C114.1 56.2 116.2 55.1 118.2 54C120.2 53 122.1 51.8 124 50.7C125.9 49.6 127.7 48.4 129.5 47.2C131.3 46 133 44.8 134.6 43.6C136.2 42.3 137.8 41.1 139.3 39.8C140.8 38.5 142.2 37.2 143.6 35.9C144.9 34.5 146.2 33.2 147.4 31.8C148.6 30.5 149.7 29.1 150.8 27.7C151.9 26.3 152.8 24.9 153.7 23.5C154.7 22.1 155.5 20.7 156.2 19.2C157 17.8 157.7 16.4 158.3 14.9C158.9 13.4 159.4 12 159.8 10.5C160.2 9 160.6 7.6 160.9 6.1C161.2 4.6 161.4 3.1 161.5 1.6C161.6 0.1 161.6 -1.3 161.6 -2.8C161.5 -4.3 161.4 -5.8 161.2 -7.3C161 -8.8 160.7 -10.2 160.3 -11.7C160 -13.2 159.5 -14.7 159 -16.1C158.5 -17.6 157.9 -19.1 157.2 -20.5C156.5 -21.9 155.8 -23.4 154.9 -24.8C154.1 -26.2 153.2 -27.6 152.2 -29C151.2 -30.4 150 -31.8 149 -33.2C147.9 -34.6 146.9 -36 145.8 -37.3C144.6 -38.7 143.4 -40 142.2 -41.4C140.9 -42.7 139.5 -44 138.1 -45.3C136.6 -46.6 135.1 -47.9 133.6 -49.2C132 -50.5 130.3 -51.7 128.6 -52.9C126.9 -54.2 125.1 -55.4 123.2 -56.6C121.4 -57.8 119.4 -59 117.4 -60.1C115.5 -61.2 113.4 -62.4 111.3 -63.5C109.1 -64.6 105.8 -66.1 104.7 -66.7"/>
</g>
<g transform="translate(1599.5 983)">
<path class="mw" d="M-41 -110L-102.6 -66.9A167.5 86.3 0 1 0 103.6 -66.2L41 -110Z"/>
<path class="n" d="M-104.7 -66.7C-105.8 -66.1 -109.1 -64.6 -111.3 -63.5C-113.4 -62.4 -115.5 -61.2 -117.4 -60.1C-119.4 -59 -121.4 -57.8 -123.2 -56.6C-125.1 -55.4 -126.9 -54.2 -128.6 -52.9C-130.3 -51.7 -132 -50.5 -133.6 -49.2C-135.1 -47.9 -136.6 -46.6 -138.1 -45.3C-139.5 -44 -140.9 -42.7 -142.2 -41.4C-143.4 -40 -144.6 -38.7 -145.8 -37.3C-146.9 -36 -147.9 -34.6 -149 -33.2C-150 -31.8 -151.2 -30.4 -152.2 -29C-153.2 -27.6 -154.1 -26.2 -154.9 -24.8C-155.8 -23.4 -156.5 -21.9 -157.2 -20.5C-157.9 -19.1 -158.5 -17.6 -159 -16.1C-159.5 -14.7 -160 -13.2 -160.3 -11.7C-160.7 -10.2 -161 -8.8 -161.2 -7.3C-161.4 -5.8 -161.5 -4.3 -161.6 -2.8C-161.6 -1.3 -161.6 0.1 -161.5 1.6C-161.4 3.1 -161.2 4.6 -160.9 6.1C-160.6 7.6 -160.2 9 -159.8 10.5C-159.4 12 -158.9 13.4 -158.3 14.9C-157.7 16.4 -157 17.8 -156.2 19.2C-155.5 20.7 -154.7 22.1 -153.7 23.5C-152.8 24.9 -151.9 26.3 -150.8 27.7C-149.7 29.1 -148.6 30.5 -147.4 31.8C-146.2 33.2 -144.9 34.5 -143.6 35.9C-142.2 37.2 -140.8 38.5 -139.3 39.8C-137.8 41.1 -136.2 42.3 -134.6 43.6C-133 44.8 -131.3 46 -129.5 47.2C-127.7 48.4 -125.9 49.6 -124 50.7C-122.1 51.8 -120.2 53 -118.2 54C-116.2 55.1 -114.1 56.2 -112 57.2C-109.9 58.3 -107.7 59.3 -105.5 60.2C-103.2 61.2 -100.9 62.1 -98.6 63C-96.3 63.9 -93.9 64.8 -91.5 65.7C-89 66.5 -86.5 67.3 -84 68.1C-81.5 68.9 -79 69.6 -76.4 70.3C-73.8 71 -71.1 71.7 -68.5 72.3C-65.8 72.9 -63.1 73.5 -60.4 74.1C-57.6 74.6 -54.9 75.2 -52.1 75.6C-49.3 76.1 -46.5 76.6 -43.6 77C-40.8 77.4 -37.9 77.7 -35.1 78C-32.2 78.4 -29.3 78.6 -26.4 78.9C-23.5 79.1 -20.6 79.3 -17.6 79.5C-14.7 79.7 -11.8 79.8 -8.8 79.9C-5.9 79.9 -2.9 80 0 80C2.9 80 5.9 79.9 8.8 79.9C11.8 79.8 14.7 79.7 17.6 79.5C20.6 79.3 23.5 79.1 26.4 78.9C29.3 78.6 32.2 78.4 35.1 78C37.9 77.7 40.8 77.4 43.6 77C46.5 76.6 49.3 76.1 52.1 75.6C54.9 75.2 57.6 74.6 60.4 74.1C63.1 73.5 65.8 72.9 68.5 72.3C71.1 71.7 73.8 71 76.4 70.3C79 69.6 81.5 68.9 84 68.1C86.5 67.3 89 66.5 91.5 65.7C93.9 64.8 96.3 63.9 98.6 63C100.9 62.1 103.2 61.2 105.5 60.2C107.7 59.3 109.9 58.3 112 57.2C114.1 56.2 116.2 55.1 118.2 54C120.2 53 122.1 51.8 124 50.7C125.9 49.6 127.7 48.4 129.5 47.2C131.3 46 133 44.8 134.6 43.6C136.2 42.3 137.8 41.1 139.3 39.8C140.8 38.5 142.2 37.2 143.6 35.9C144.9 34.5 146.2 33.2 147.4 31.8C148.6 30.5 149.7 29.1 150.8 27.7C151.9 26.3 152.8 24.9 153.7 23.5C154.7 22.1 155.5 20.7 156.2 19.2C157 17.8 157.7 16.4 158.3 14.9C158.9 13.4 159.4 12 159.8 10.5C160.2 9 160.6 7.6 160.9 6.1C161.2 4.6 161.4 3.1 161.5 1.6C161.6 0.1 161.6 -1.3 161.6 -2.8C161.5 -4.3 161.4 -5.8 161.2 -7.3C161 -8.8 160.7 -10.2 160.3 -11.7C160 -13.2 159.5 -14.7 159 -16.1C158.5 -17.6 157.9 -19.1 157.2 -20.5C156.5 -21.9 155.8 -23.4 154.9 -24.8C154.1 -26.2 153.2 -27.6 152.2 -29C151.2 -30.4 150 -31.8 149 -33.2C147.9 -34.6 146.9 -36 145.8 -37.3C144.6 -38.7 143.4 -40 142.2 -41.4C140.9 -42.7 139.5 -44 138.1 -45.3C136.6 -46.6 135.1 -47.9 133.6 -49.2C132 -50.5 130.3 -51.7 128.6 -52.9C126.9 -54.2 125.1 -55.4 123.2 -56.6C121.4 -57.8 119.4 -59 117.4 -60.1C115.5 -61.2 113.4 -62.4 111.3 -63.5C109.1 -64.6 105.8 -66.1 104.7 -66.7"/>
</g>
<g transform="translate(440.4 1002)">
<path class="mw" d="M-72.7 26.5C-72.7 24.2 -72.9 17.9 -72.7 12.5C-72.5 7.1 -72.6 0.4 -71.8 -6.1C-71 -12.6 -69.6 -21 -68 -26.6C-66.4 -32.2 -64.9 -36 -62.4 -39.6C-59.9 -43.2 -56.5 -46.2 -53.1 -48C-49.7 -49.8 -45.7 -50.5 -42 -50.4C-38.3 -50.2 -34.5 -49.2 -30.8 -47.1C-27.1 -45 -23.3 -41.4 -19.6 -37.8C-15.9 -34.2 -11.6 -29.4 -8.4 -25.7C-5.2 -22 -1.8 -17.1 -0.5 -15.4L-14.9 -3.8C-15.7 -5 -17.6 -8.1 -19.6 -10.8C-21.6 -13.5 -24.2 -17 -27 -20.1C-29.8 -23.2 -33.9 -27.5 -36.4 -29.4C-38.9 -31.3 -40.3 -31.8 -42 -31.7C-43.7 -31.6 -45.2 -30.3 -46.6 -28.5C-48 -26.7 -49.2 -24.7 -50.3 -21C-51.4 -17.3 -52.4 -11.7 -53.1 -6.1C-53.8 -0.5 -54.3 7.1 -54.5 12.5C-54.7 17.9 -54.5 24.2 -54.5 26.5A9.1 4.9 0 0 1 -72.7 26.5Z"/>
<path class="mw" d="M-41 83.3V90.8A40.9 19.3 0 0 0 40.7 90.8V83.3A40.9 19.5 0 0 0 -41 83.3Z"/>
<path class="mw" d="M-34.7 66V81.5A34.5 14 0 0 0 34.4 81.5V66A34.5 14 0 0 0 -34.7 66Z"/>
<path class="w" d="M-37 40.5V62.8A37 17 0 0 0 37 62.8V40.5A37 17 0 0 0 -37 40.5Z"/>
<path class="m" d="M-37 40.5V62.8A37 17 0 0 0 37 62.8V40.5A37 17 0 0 1 -37 40.5"/>
<path class="w" d="M-34.7 30V44H34.4V30Z"/>
<path class="m" d="M-34.7 30V43.5M34.4 30V43"/>
<path class="mw" d="M-37 20V31.2A37 15.6 0 0 0 37 31.2V20A37 17.7 0 0 0 -37 20Z"/>
<ellipse class="mw" cx="0" cy="11.6" rx="13" ry="8.3"/>
<circle class="mw" cx="0" cy="0" r="15"/>
</g>
<g transform="translate(826.8 931.8)">
<path class="mw" d="M-72.7 26.5C-72.7 24.2 -72.9 17.9 -72.7 12.5C-72.5 7.1 -72.6 0.4 -71.8 -6.1C-71 -12.6 -69.6 -21 -68 -26.6C-66.4 -32.2 -64.9 -36 -62.4 -39.6C-59.9 -43.2 -56.5 -46.2 -53.1 -48C-49.7 -49.8 -45.7 -50.5 -42 -50.4C-38.3 -50.2 -34.5 -49.2 -30.8 -47.1C-27.1 -45 -23.3 -41.4 -19.6 -37.8C-15.9 -34.2 -11.6 -29.4 -8.4 -25.7C-5.2 -22 -1.8 -17.1 -0.5 -15.4L-14.9 -3.8C-15.7 -5 -17.6 -8.1 -19.6 -10.8C-21.6 -13.5 -24.2 -17 -27 -20.1C-29.8 -23.2 -33.9 -27.5 -36.4 -29.4C-38.9 -31.3 -40.3 -31.8 -42 -31.7C-43.7 -31.6 -45.2 -30.3 -46.6 -28.5C-48 -26.7 -49.2 -24.7 -50.3 -21C-51.4 -17.3 -52.4 -11.7 -53.1 -6.1C-53.8 -0.5 -54.3 7.1 -54.5 12.5C-54.7 17.9 -54.5 24.2 -54.5 26.5A9.1 4.9 0 0 1 -72.7 26.5Z"/>
<path class="mw" d="M-41 83.3V90.8A40.9 19.3 0 0 0 40.7 90.8V83.3A40.9 19.5 0 0 0 -41 83.3Z"/>
<path class="mw" d="M-34.7 66V81.5A34.5 14 0 0 0 34.4 81.5V66A34.5 14 0 0 0 -34.7 66Z"/>
<path class="w" d="M-37 40.5V62.8A37 17 0 0 0 37 62.8V40.5A37 17 0 0 0 -37 40.5Z"/>
<path class="m" d="M-37 40.5V62.8A37 17 0 0 0 37 62.8V40.5A37 17 0 0 1 -37 40.5"/>
<path class="w" d="M-34.7 30V44H34.4V30Z"/>
<path class="m" d="M-34.7 30V43.5M34.4 30V43"/>
<path class="mw" d="M-37 20V31.2A37 15.6 0 0 0 37 31.2V20A37 17.7 0 0 0 -37 20Z"/>
<ellipse class="mw" cx="0" cy="11.6" rx="13" ry="8.3"/>
<circle class="mw" cx="0" cy="0" r="15"/>
</g>
<g transform="translate(1213.2 861.5)">
<path class="mw" d="M-72.7 26.5C-72.7 24.2 -72.9 17.9 -72.7 12.5C-72.5 7.1 -72.6 0.4 -71.8 -6.1C-71 -12.6 -69.6 -21 -68 -26.6C-66.4 -32.2 -64.9 -36 -62.4 -39.6C-59.9 -43.2 -56.5 -46.2 -53.1 -48C-49.7 -49.8 -45.7 -50.5 -42 -50.4C-38.3 -50.2 -34.5 -49.2 -30.8 -47.1C-27.1 -45 -23.3 -41.4 -19.6 -37.8C-15.9 -34.2 -11.6 -29.4 -8.4 -25.7C-5.2 -22 -1.8 -17.1 -0.5 -15.4L-14.9 -3.8C-15.7 -5 -17.6 -8.1 -19.6 -10.8C-21.6 -13.5 -24.2 -17 -27 -20.1C-29.8 -23.2 -33.9 -27.5 -36.4 -29.4C-38.9 -31.3 -40.3 -31.8 -42 -31.7C-43.7 -31.6 -45.2 -30.3 -46.6 -28.5C-48 -26.7 -49.2 -24.7 -50.3 -21C-51.4 -17.3 -52.4 -11.7 -53.1 -6.1C-53.8 -0.5 -54.3 7.1 -54.5 12.5C-54.7 17.9 -54.5 24.2 -54.5 26.5A9.1 4.9 0 0 1 -72.7 26.5Z"/>
<path class="mw" d="M-41 83.3V90.8A40.9 19.3 0 0 0 40.7 90.8V83.3A40.9 19.5 0 0 0 -41 83.3Z"/>
<path class="mw" d="M-34.7 66V81.5A34.5 14 0 0 0 34.4 81.5V66A34.5 14 0 0 0 -34.7 66Z"/>
<path class="w" d="M-37 40.5V62.8A37 17 0 0 0 37 62.8V40.5A37 17 0 0 0 -37 40.5Z"/>
<path class="m" d="M-37 40.5V62.8A37 17 0 0 0 37 62.8V40.5A37 17 0 0 1 -37 40.5"/>
<path class="w" d="M-34.7 30V44H34.4V30Z"/>
<path class="m" d="M-34.7 30V43.5M34.4 30V43"/>
<path class="mw" d="M-37 20V31.2A37 15.6 0 0 0 37 31.2V20A37 17.7 0 0 0 -37 20Z"/>
<ellipse class="mw" cx="0" cy="11.6" rx="13" ry="8.3"/>
<circle class="mw" cx="0" cy="0" r="15"/>
</g>
<g transform="translate(1599.6 791.2)">
<path class="mw" d="M-72.7 26.5C-72.7 24.2 -72.9 17.9 -72.7 12.5C-72.5 7.1 -72.6 0.4 -71.8 -6.1C-71 -12.6 -69.6 -21 -68 -26.6C-66.4 -32.2 -64.9 -36 -62.4 -39.6C-59.9 -43.2 -56.5 -46.2 -53.1 -48C-49.7 -49.8 -45.7 -50.5 -42 -50.4C-38.3 -50.2 -34.5 -49.2 -30.8 -47.1C-27.1 -45 -23.3 -41.4 -19.6 -37.8C-15.9 -34.2 -11.6 -29.4 -8.4 -25.7C-5.2 -22 -1.8 -17.1 -0.5 -15.4L-14.9 -3.8C-15.7 -5 -17.6 -8.1 -19.6 -10.8C-21.6 -13.5 -24.2 -17 -27 -20.1C-29.8 -23.2 -33.9 -27.5 -36.4 -29.4C-38.9 -31.3 -40.3 -31.8 -42 -31.7C-43.7 -31.6 -45.2 -30.3 -46.6 -28.5C-48 -26.7 -49.2 -24.7 -50.3 -21C-51.4 -17.3 -52.4 -11.7 -53.1 -6.1C-53.8 -0.5 -54.3 7.1 -54.5 12.5C-54.7 17.9 -54.5 24.2 -54.5 26.5A9.1 4.9 0 0 1 -72.7 26.5Z"/>
<path class="mw" d="M-41 83.3V90.8A40.9 19.3 0 0 0 40.7 90.8V83.3A40.9 19.5 0 0 0 -41 83.3Z"/>
<path class="mw" d="M-34.7 66V81.5A34.5 14 0 0 0 34.4 81.5V66A34.5 14 0 0 0 -34.7 66Z"/>
<path class="w" d="M-37 40.5V62.8A37 17 0 0 0 37 62.8V40.5A37 17 0 0 0 -37 40.5Z"/>
<path class="m" d="M-37 40.5V62.8A37 17 0 0 0 37 62.8V40.5A37 17 0 0 1 -37 40.5"/>
<path class="w" d="M-34.7 30V44H34.4V30Z"/>
<path class="m" d="M-34.7 30V43.5M34.4 30V43"/>
<path class="mw" d="M-37 20V31.2A37 15.6 0 0 0 37 31.2V20A37 17.7 0 0 0 -37 20Z"/>
<ellipse class="mw" cx="0" cy="11.6" rx="13" ry="8.3"/>
<circle class="mw" cx="0" cy="0" r="15"/>
</g>
<path class="dd" d="M440.4 1112V1128M440.4 1129.4V1133M440.4 1134.6V1176.6"/>
<g transform="translate(440.3 1273.1)">
<path class="mw" d="M-41 -110L-102.6 -66.9A167.5 86.3 0 1 0 103.6 -66.2L41 -110Z"/>
<path class="n" d="M-104.7 -66.7C-105.8 -66.1 -109.1 -64.6 -111.3 -63.5C-113.4 -62.4 -115.5 -61.2 -117.4 -60.1C-119.4 -59 -121.4 -57.8 -123.2 -56.6C-125.1 -55.4 -126.9 -54.2 -128.6 -52.9C-130.3 -51.7 -132 -50.5 -133.6 -49.2C-135.1 -47.9 -136.6 -46.6 -138.1 -45.3C-139.5 -44 -140.9 -42.7 -142.2 -41.4C-143.4 -40 -144.6 -38.7 -145.8 -37.3C-146.9 -36 -147.9 -34.6 -149 -33.2C-150 -31.8 -151.2 -30.4 -152.2 -29C-153.2 -27.6 -154.1 -26.2 -154.9 -24.8C-155.8 -23.4 -156.5 -21.9 -157.2 -20.5C-157.9 -19.1 -158.5 -17.6 -159 -16.1C-159.5 -14.7 -160 -13.2 -160.3 -11.7C-160.7 -10.2 -161 -8.8 -161.2 -7.3C-161.4 -5.8 -161.5 -4.3 -161.6 -2.8C-161.6 -1.3 -161.6 0.1 -161.5 1.6C-161.4 3.1 -161.2 4.6 -160.9 6.1C-160.6 7.6 -160.2 9 -159.8 10.5C-159.4 12 -158.9 13.4 -158.3 14.9C-157.7 16.4 -157 17.8 -156.2 19.2C-155.5 20.7 -154.7 22.1 -153.7 23.5C-152.8 24.9 -151.9 26.3 -150.8 27.7C-149.7 29.1 -148.6 30.5 -147.4 31.8C-146.2 33.2 -144.9 34.5 -143.6 35.9C-142.2 37.2 -140.8 38.5 -139.3 39.8C-137.8 41.1 -136.2 42.3 -134.6 43.6C-133 44.8 -131.3 46 -129.5 47.2C-127.7 48.4 -125.9 49.6 -124 50.7C-122.1 51.8 -120.2 53 -118.2 54C-116.2 55.1 -114.1 56.2 -112 57.2C-109.9 58.3 -107.7 59.3 -105.5 60.2C-103.2 61.2 -100.9 62.1 -98.6 63C-96.3 63.9 -93.9 64.8 -91.5 65.7C-89 66.5 -86.5 67.3 -84 68.1C-81.5 68.9 -79 69.6 -76.4 70.3C-73.8 71 -71.1 71.7 -68.5 72.3C-65.8 72.9 -63.1 73.5 -60.4 74.1C-57.6 74.6 -54.9 75.2 -52.1 75.6C-49.3 76.1 -46.5 76.6 -43.6 77C-40.8 77.4 -37.9 77.7 -35.1 78C-32.2 78.4 -29.3 78.6 -26.4 78.9C-23.5 79.1 -20.6 79.3 -17.6 79.5C-14.7 79.7 -11.8 79.8 -8.8 79.9C-5.9 79.9 -2.9 80 0 80C2.9 80 5.9 79.9 8.8 79.9C11.8 79.8 14.7 79.7 17.6 79.5C20.6 79.3 23.5 79.1 26.4 78.9C29.3 78.6 32.2 78.4 35.1 78C37.9 77.7 40.8 77.4 43.6 77C46.5 76.6 49.3 76.1 52.1 75.6C54.9 75.2 57.6 74.6 60.4 74.1C63.1 73.5 65.8 72.9 68.5 72.3C71.1 71.7 73.8 71 76.4 70.3C79 69.6 81.5 68.9 84 68.1C86.5 67.3 89 66.5 91.5 65.7C93.9 64.8 96.3 63.9 98.6 63C100.9 62.1 103.2 61.2 105.5 60.2C107.7 59.3 109.9 58.3 112 57.2C114.1 56.2 116.2 55.1 118.2 54C120.2 53 122.1 51.8 124 50.7C125.9 49.6 127.7 48.4 129.5 47.2C131.3 46 133 44.8 134.6 43.6C136.2 42.3 137.8 41.1 139.3 39.8C140.8 38.5 142.2 37.2 143.6 35.9C144.9 34.5 146.2 33.2 147.4 31.8C148.6 30.5 149.7 29.1 150.8 27.7C151.9 26.3 152.8 24.9 153.7 23.5C154.7 22.1 155.5 20.7 156.2 19.2C157 17.8 157.7 16.4 158.3 14.9C158.9 13.4 159.4 12 159.8 10.5C160.2 9 160.6 7.6 160.9 6.1C161.2 4.6 161.4 3.1 161.5 1.6C161.6 0.1 161.6 -1.3 161.6 -2.8C161.5 -4.3 161.4 -5.8 161.2 -7.3C161 -8.8 160.7 -10.2 160.3 -11.7C160 -13.2 159.5 -14.7 159 -16.1C158.5 -17.6 157.9 -19.1 157.2 -20.5C156.5 -21.9 155.8 -23.4 154.9 -24.8C154.1 -26.2 153.2 -27.6 152.2 -29C151.2 -30.4 150 -31.8 149 -33.2C147.9 -34.6 146.9 -36 145.8 -37.3C144.6 -38.7 143.4 -40 142.2 -41.4C140.9 -42.7 139.5 -44 138.1 -45.3C136.6 -46.6 135.1 -47.9 133.6 -49.2C132 -50.5 130.3 -51.7 128.6 -52.9C126.9 -54.2 125.1 -55.4 123.2 -56.6C121.4 -57.8 119.4 -59 117.4 -60.1C115.5 -61.2 113.4 -62.4 111.3 -63.5C109.1 -64.6 105.8 -66.1 104.7 -66.7"/>
<ellipse class="mw" cx="0.2" cy="-102.9" rx="40.6" ry="20"/>
<ellipse class="m" style="stroke-width:3.2" cx="0.2" cy="-103.4" rx="35" ry="16.7"/>
</g>
<path class="dd" d="M440.4 1134.6V1155M440.4 1156.6V1176.6"/>
<path class="dd" d="M438 1361V1374.4M438 1377.3V1389.1M438 1393.1V1409"/>
<path class="dd" d="M438 1468V1484.6M438 1488.5V1505.3M438 1509.2V1523"/>
<g id="ring">
<path class="mw" d="M395.2 1406.5V1461.4A42.7 6.8 0 0 0 480.6 1461.4V1406.5A42.7 6.5 0 0 0 395.2 1406.5Z"/>
<ellipse class="m" cx="437.9" cy="1406.5" rx="42.7" ry="6.5"/>
<ellipse class="m" style="stroke-width:2.3" cx="438.1" cy="1407.1" rx="32.6" ry="5.2"/>
<path class="dd" d="M438 1393.1V1409"/>
</g>
<g id="bulb">
<path class="mw" d="M412 1577.8C411 1587.8 410.3 1599.1 402.5 1608.3A46.7 46.7 0 1 0 474.1 1608.3C466.3 1599.1 465.6 1587.8 464.6 1577.8L461.5 1569L460.3 1561V1537.5L446.9 1524.7H429.7L416.3 1537.5V1561L415.1 1569Z"/>
<ellipse class="mw" cx="438.3" cy="1525.4" rx="7.9" ry="2.6"/>
<path class="m" style="stroke-width:2" d="M416.3 1537.8A22 5.6 0 0 0 460.3 1537.8"/>
<path class="m" style="stroke-width:2.6" d="M416.3 1542.5A22 5.8 0 0 0 460.3 1542.5"/>
<path class="m" style="stroke-width:1.6" d="M416.3 1547.6A22 5.8 0 0 0 460.3 1547.6"/>
<path class="m" style="stroke-width:2.6" d="M416.3 1551A22 5.8 0 0 0 460.3 1551"/>
<path class="m" style="stroke-width:1.6" d="M416.3 1555.5A22 5.8 0 0 0 460.3 1555.5"/>
<path class="m" style="stroke-width:2.6" d="M416.3 1558.6A22 5.8 0 0 0 460.3 1558.6"/>
<path class="m" d="M415.5 1566.5A23 6.2 0 0 0 461.1 1566.5"/>
<path class="m" d="M412 1578A26.3 8.4 0 0 0 464.6 1578"/>
</g>
<g class="ld">
<path d="M479 497H517"/>
<path d="M479 551.9H684"/>
<path d="M479 604.7H575"/>
<path d="M479 658.4H687"/>
<path d="M479 710.8H715.4V657.4"/>
<path d="M479 765.1H766.5V689.7"/>
<path d="M479 813.8H750"/>
<path d="M479 868.4H728.5L824.4 746.9"/>
<path d="M479 924.3H736.5L830.4 807.5"/>
<path d="M483.5 1431.5H685.4"/>
<path d="M488.2 1631.3H583.2"/>
<path d="M605.2 1294H677"/>
<path d="M484 1065.8H549.7"/>
<path d="M991.7 766V811"/>
<path d="M1062.3 1168.5L1021.5 1024"/>
</g>
<g id="labels">
<text x="478.8" y="502.7" text-anchor="end">Outlet Box</text>
<text x="478.8" y="556.4" text-anchor="end">House Ground Wire</text>
<text x="478.8" y="609.8" text-anchor="end">Wire Connector (C)</text>
<text x="478.8" y="663.3" text-anchor="end">Cross Bar Unit (A)</text>
<text x="478.8" y="717" text-anchor="end">Headless Screw</text>
<text x="478.8" y="770.3" text-anchor="end">Green Ground Screw</text>
<text x="478.8" y="824.4" text-anchor="end">Mounting Screw (B)</text>
<text x="478.8" y="877.4" text-anchor="end">Fixture Ground Wire</text>
<text x="478.8" y="931" text-anchor="end">Fixture Wire</text>
<text x="1002" y="760" text-anchor="middle">Backplate</text>
<text x="555.6" y="1075.6">Fixture</text>
<text x="1096.3" y="1188.2" text-anchor="middle">Bolt Nut (D)</text>
<text x="684.8" y="1304.8">Metal Shade</text>
<text x="684.6" y="1441.9">Socket Ring</text>
<text x="583" y="1641.1">Bulb Type A Max.100W</text>
<text x="692.5" y="1668.8" text-anchor="middle">(Not included)</text>
</g>
</svg>
</body></html>
